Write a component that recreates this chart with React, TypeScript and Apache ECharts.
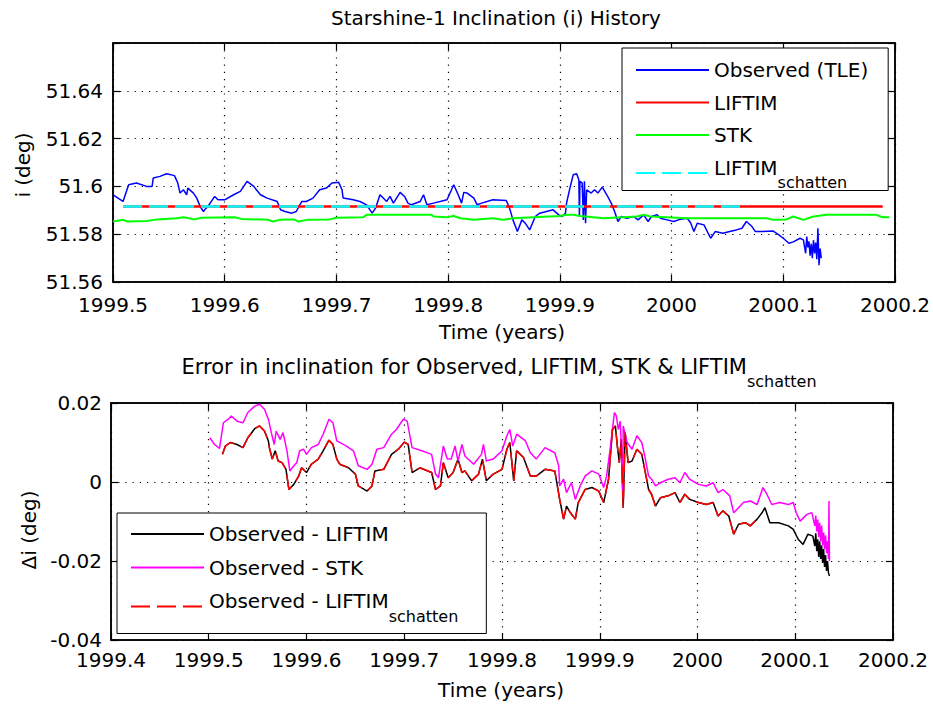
import { useEffect, useRef } from "react";
import * as echarts from "echarts";

const FONT = "DejaVu Sans";

// ---- Inclination history (deg) vs time (decimal years) ----
const observedTLE: [number, number][] = [
  [1999.5, 51.5965], [1999.509, 51.5937], [1999.514, 51.6007], [1999.521, 51.6014], [1999.53, 51.6],
  [1999.535, 51.6], [1999.536, 51.6035], [1999.542, 51.6042], [1999.548, 51.6053], [1999.555, 51.6045],
  [1999.558, 51.6014], [1999.56, 51.5972], [1999.563, 51.5986], [1999.566, 51.5965], [1999.567, 51.5993],
  [1999.572, 51.5972], [1999.575, 51.5951], [1999.578, 51.5916], [1999.581, 51.5895], [1999.582, 51.5902],
  [1999.585, 51.5916], [1999.588, 51.5937], [1999.591, 51.5958], [1999.594, 51.5944], [1999.6, 51.5944],
  [1999.608, 51.5965], [1999.614, 51.5979], [1999.62, 51.6021], [1999.626, 51.6], [1999.632, 51.5965],
  [1999.638, 51.5951], [1999.647, 51.5937], [1999.65, 51.5902], [1999.654, 51.5895], [1999.66, 51.5888],
  [1999.664, 51.5895], [1999.669, 51.5937], [1999.673, 51.5937], [1999.679, 51.5951], [1999.685, 51.5986],
  [1999.691, 51.5993], [1999.696, 51.6014], [1999.702, 51.6017], [1999.705, 51.5986], [1999.706, 51.5951],
  [1999.715, 51.5944], [1999.721, 51.5937], [1999.727, 51.5923], [1999.732, 51.5888], [1999.735, 51.5909],
  [1999.739, 51.5965], [1999.745, 51.5937], [1999.748, 51.5958], [1999.751, 51.593], [1999.757, 51.5975],
  [1999.761, 51.5958], [1999.764, 51.593], [1999.767, 51.5923], [1999.775, 51.5937], [1999.778, 51.5965],
  [1999.781, 51.5923], [1999.787, 51.593], [1999.799, 51.5944], [1999.805, 51.6007], [1999.809, 51.5965],
  [1999.812, 51.593], [1999.814, 51.5975], [1999.817, 51.5972], [1999.823, 51.5951], [1999.826, 51.5923],
  [1999.83, 51.593], [1999.84, 51.5944], [1999.852, 51.5941], [1999.855, 51.5909], [1999.858, 51.586],
  [1999.862, 51.5811], [1999.866, 51.586], [1999.869, 51.5846], [1999.873, 51.5818], [1999.878, 51.5874],
  [1999.882, 51.5888], [1999.888, 51.5895], [1999.894, 51.5902], [1999.899, 51.5881], [1999.902, 51.5874],
  [1999.905, 51.5888], [1999.906, 51.593], [1999.909, 51.5993], [1999.912, 51.6049], [1999.915, 51.6053],
  [1999.917, 51.6028], [1999.9175, 51.5874], [1999.918, 51.6021], [1999.92, 51.6014], [1999.921, 51.586],
  [1999.922, 51.6021], [1999.923, 51.5846], [1999.924, 51.5986], [1999.928, 51.5972], [1999.931, 51.5986],
  [1999.934, 51.5972], [1999.938, 51.5997], [1999.942, 51.5965], [1999.946, 51.593], [1999.949, 51.5895],
  [1999.952, 51.5853], [1999.955, 51.5874], [1999.96, 51.5867], [1999.966, 51.5874], [1999.97, 51.586],
  [1999.975, 51.5881], [1999.979, 51.5853], [1999.982, 51.5874], [1999.987, 51.5881], [1999.99, 51.5867],
  [1999.996, 51.586], [2000.002, 51.5853], [2000.008, 51.5863], [2000.014, 51.5867], [2000.017, 51.5848],
  [2000.02, 51.5811], [2000.023, 51.5846], [2000.029, 51.5839], [2000.035, 51.5783], [2000.039, 51.5811],
  [2000.046, 51.5804], [2000.052, 51.5811], [2000.058, 51.5818], [2000.063, 51.5825], [2000.067, 51.5853],
  [2000.072, 51.5832], [2000.075, 51.5811], [2000.081, 51.5811], [2000.091, 51.5813], [2000.096, 51.5797],
  [2000.1, 51.5783], [2000.105, 51.5762], [2000.109, 51.5768], [2000.115, 51.5783], [2000.118, 51.5776],
  [2000.12, 51.572], [2000.121, 51.579], [2000.122, 51.5745], [2000.123, 51.577], [2000.124, 51.571],
  [2000.125, 51.576], [2000.126, 51.57], [2000.127, 51.5775], [2000.128, 51.572], [2000.129, 51.5765],
  [2000.13, 51.5695], [2000.131, 51.5825], [2000.132, 51.567], [2000.133, 51.574], [2000.134, 51.57],
];

const liftim: [number, number][] = [[1999.509, 51.5916], [2000.189, 51.5916]];

const stk: [number, number][] = [
  [1999.5, 51.5853], [1999.509, 51.586], [1999.513, 51.5853], [1999.53, 51.5855], [1999.54, 51.5862],
  [1999.557, 51.5867], [1999.563, 51.5871], [1999.573, 51.5862], [1999.579, 51.5869], [1999.609, 51.5871],
  [1999.615, 51.5864], [1999.639, 51.586], [1999.643, 51.5853], [1999.649, 51.586], [1999.662, 51.5862],
  [1999.666, 51.5853], [1999.674, 51.586], [1999.694, 51.5862], [1999.7, 51.5869], [1999.724, 51.5871],
  [1999.727, 51.5881], [1999.785, 51.5881], [1999.787, 51.5874], [1999.799, 51.5871], [1999.805, 51.5876],
  [1999.811, 51.5867], [1999.823, 51.586], [1999.84, 51.5867], [1999.849, 51.586], [1999.858, 51.5867],
  [1999.9, 51.5876], [1999.906, 51.5881], [1999.912, 51.5881], [1999.918, 51.5876], [1999.939, 51.5867],
  [1999.969, 51.5874], [1999.975, 51.5881], [1999.981, 51.5874], [2000.014, 51.5867], [2000.085, 51.5867],
  [2000.091, 51.586], [2000.103, 51.5862], [2000.109, 51.5874], [2000.118, 51.586], [2000.127, 51.5874],
  [2000.139, 51.5881], [2000.183, 51.5881], [2000.189, 51.5871], [2000.195, 51.5871],
];

const liftimSchatten: [number, number][] = [[1999.509, 51.5916], [2000.063, 51.5916]];

// ---- Inclination error (deg) ----
const errLiftim: [number, number][] = [
  [1999.514, 0.007], [1999.517, 0.0091], [1999.522, 0.01], [1999.529, 0.0095], [1999.535, 0.0087],
  [1999.54, 0.0112], [1999.547, 0.0135], [1999.552, 0.0142], [1999.557, 0.0129], [1999.561, 0.0104],
  [1999.562, 0.0087], [1999.565, 0.0058], [1999.568, 0.0079], [1999.571, 0.0053], [1999.575, 0.0049],
  [1999.579, 0.0032], [1999.582, -0.0019], [1999.587, -0.0006], [1999.592, 0.0015], [1999.595, 0.0036],
  [1999.6, 0.0024], [1999.605, 0.0045], [1999.612, 0.0058], [1999.617, 0.0079], [1999.623, 0.0106],
  [1999.627, 0.0095], [1999.631, 0.0058], [1999.634, 0.0045], [1999.643, 0.0036], [1999.65, 0.002],
  [1999.653, -0.001], [1999.662, -0.0023], [1999.667, -0.001], [1999.67, 0.0028], [1999.679, 0.0032],
  [1999.687, 0.007], [1999.694, 0.0083], [1999.7, 0.0101], [1999.704, 0.0095], [1999.708, 0.0024],
  [1999.716, 0.0036], [1999.728, 0.0024], [1999.732, -0.0019], [1999.737, -0.001], [1999.74, 0.0049],
  [1999.745, 0.0011], [1999.75, 0.0024], [1999.755, 0.0058], [1999.759, 0.0024], [1999.762, 0.0028],
  [1999.769, 0.0003], [1999.776, 0.002], [1999.78, 0.0058], [1999.784, 0.0003], [1999.791, 0.002],
  [1999.8, 0.0032], [1999.805, 0.0083], [1999.808, 0.01], [1999.812, 0.0003], [1999.815, 0.0079],
  [1999.822, 0.0062], [1999.829, 0.0015], [1999.835, 0.0015], [1999.844, 0.0032], [1999.854, 0.0028],
  [1999.859, -0.0044], [1999.863, -0.0094], [1999.866, -0.0061], [1999.87, -0.0078], [1999.875, -0.0094],
  [1999.878, -0.0052], [1999.885, -0.0019], [1999.892, -0.0014], [1999.899, -0.0023], [1999.904, -0.0052],
  [1999.909, 0.0007], [1999.913, 0.0133], [1999.916, 0.0142], [1999.918, 0.0091], [1999.92, 0.0049],
  [1999.922, 0.0108], [1999.924, -0.0065], [1999.926, 0.0125], [1999.929, 0.0049], [1999.933, 0.0053],
  [1999.938, 0.0083], [1999.943, 0.007], [1999.946, 0.0032], [1999.95, -0.0019], [1999.953, -0.0031],
  [1999.957, -0.0061], [1999.962, -0.004], [1999.97, -0.0035], [1999.977, -0.0027], [1999.982, -0.0052],
  [1999.987, -0.0031], [1999.992, -0.0044], [2000.001, -0.0052], [2000.009, -0.0057], [2000.016, -0.0052],
  [2000.021, -0.0086], [2000.026, -0.0073], [2000.032, -0.0086], [2000.037, -0.0132], [2000.042, -0.0107],
  [2000.049, -0.0103], [2000.054, -0.0111], [2000.061, -0.0094], [2000.066, -0.0078], [2000.069, -0.0065],
  [2000.074, -0.0103], [2000.083, -0.0103], [2000.093, -0.0111], [2000.098, -0.012], [2000.103, -0.0145],
  [2000.108, -0.0158], [2000.113, -0.0132], [2000.118, -0.0137], [2000.12, -0.0162], [2000.121, -0.013],
  [2000.122, -0.0175], [2000.123, -0.0145], [2000.124, -0.019], [2000.125, -0.015], [2000.126, -0.0195],
  [2000.127, -0.016], [2000.128, -0.0205], [2000.129, -0.017], [2000.13, -0.0215], [2000.131, -0.0185],
  [2000.132, -0.0225], [2000.133, -0.02], [2000.134, -0.023], [2000.135, -0.0238],
];

const errStk: [number, number][] = [
  [1999.501, 0.0112], [1999.506, 0.0095], [1999.511, 0.0085], [1999.515, 0.015], [1999.52, 0.0159],
  [1999.523, 0.0167], [1999.529, 0.0154], [1999.535, 0.015], [1999.54, 0.0176], [1999.547, 0.0192],
  [1999.552, 0.0197], [1999.557, 0.0184], [1999.561, 0.0159], [1999.564, 0.0125], [1999.567, 0.0095],
  [1999.569, 0.0129], [1999.573, 0.0108], [1999.576, 0.0125], [1999.58, 0.0079], [1999.583, 0.0028],
  [1999.587, 0.0041], [1999.59, 0.0049], [1999.593, 0.0079], [1999.597, 0.0083], [1999.6, 0.007],
  [1999.605, 0.0087], [1999.612, 0.0095], [1999.617, 0.0121], [1999.623, 0.0159], [1999.627, 0.015],
  [1999.631, 0.0104], [1999.641, 0.0091], [1999.648, 0.0079], [1999.653, 0.0041], [1999.662, 0.0032],
  [1999.667, 0.0045], [1999.672, 0.0083], [1999.679, 0.0087], [1999.687, 0.0121], [1999.692, 0.0133],
  [1999.699, 0.0159], [1999.703, 0.0154], [1999.708, 0.0087], [1999.718, 0.0079], [1999.728, 0.007],
  [1999.732, 0.002], [1999.735, 0.0011], [1999.74, 0.0091], [1999.744, 0.0058], [1999.748, 0.0058],
  [1999.752, 0.0091], [1999.755, 0.0053], [1999.759, 0.0095], [1999.762, 0.0066], [1999.771, 0.0045],
  [1999.779, 0.007], [1999.781, 0.0095], [1999.784, 0.0053], [1999.791, 0.0058], [1999.8, 0.0079],
  [1999.805, 0.0117], [1999.808, 0.0133], [1999.811, 0.0091], [1999.815, 0.0121], [1999.824, 0.0104],
  [1999.829, 0.0074], [1999.835, 0.0058], [1999.844, 0.0087], [1999.854, 0.0074], [1999.858, 0.0041],
  [1999.859, -0.001], [1999.863, 0.0007], [1999.866, -0.0027], [1999.871, -0.0002], [1999.875, -0.0044],
  [1999.88, -0.001], [1999.885, 0.0015], [1999.892, 0.0028], [1999.899, 0.002], [1999.904, -0.0014],
  [1999.907, 0.0015], [1999.911, 0.0091], [1999.915, 0.0176], [1999.917, 0.0167], [1999.919, 0.0133],
  [1999.921, 0.0154], [1999.922, 0.0091], [1999.9235, -0.0035], [1999.924, 0.0142], [1999.928, 0.01],
  [1999.933, 0.0083], [1999.938, 0.0117], [1999.943, 0.01], [1999.946, 0.0066], [1999.95, 0.0015],
  [1999.953, 0.0007], [1999.957, -0.001], [1999.962, -0.0002], [1999.97, 0.0007], [1999.977, 0.0011],
  [1999.982, -0.0002], [1999.987, 0.0024], [1999.992, 0.0007], [2000.001, -0.0006], [2000.009, -0.001],
  [2000.016, -0.0002], [2000.021, -0.0027], [2000.026, -0.0019], [2000.033, -0.0035], [2000.037, -0.0078],
  [2000.042, -0.0065], [2000.047, -0.0052], [2000.054, -0.0048], [2000.061, -0.0057], [2000.067, -0.0014],
  [2000.071, -0.0031], [2000.076, -0.0057], [2000.084, -0.0052], [2000.093, -0.0057], [2000.098, -0.0052],
  [2000.101, -0.0078], [2000.105, -0.0099], [2000.112, -0.0082], [2000.117, -0.0078], [2000.12, -0.0111],
  [2000.121, -0.0085], [2000.122, -0.0125], [2000.123, -0.0095], [2000.124, -0.014], [2000.125, -0.0103],
  [2000.126, -0.015], [2000.127, -0.011], [2000.128, -0.016], [2000.129, -0.0128], [2000.13, -0.017],
  [2000.131, -0.0135], [2000.132, -0.018], [2000.133, -0.015], [2000.134, -0.0195], [2000.1345, -0.0048],
  [2000.135, -0.02],
];

// The shadow-model error follows the LIFTIM error while its run lasts
const SCHATTEN_END = 2000.063;
const errSchatten = errLiftim.filter(([t]) => t <= SCHATTEN_END);

// ---- Axis ticks ----
const topYearTicks = [1999.5, 1999.6, 1999.7, 1999.8, 1999.9, 2000.0, 2000.1, 2000.2];
const topInclTicks = [51.56, 51.58, 51.6, 51.62, 51.64, 51.66];
const bottomYearTicks = [1999.4, 1999.5, 1999.6, 1999.7, 1999.8, 1999.9, 2000.0, 2000.1, 2000.2];
const bottomErrTicks = [-0.04, -0.02, 0, 0.02];
const hiddenTickLabels = [51.66];

// Rich-text styles: "m" is the main line, "s" a subscript pushed down by its top padding
const makeRich = (mainSize: number) => ({
  m: { fontFamily: FONT, fontSize: mainSize, padding: [2, 0, 2, 0], verticalAlign: "top", color: "#000", fill: "#000" },
  s: { fontFamily: FONT, fontSize: 16, padding: [19, 0, 0, 0], verticalAlign: "top", color: "#000", fill: "#000" },
});
const rich = makeRich(20);
const titleRich = makeRich(21);

const legendText = (name: string) =>
  name.endsWith("_schatten") ? `{m|${name.replace("_schatten", "")}}{s|schatten}` : `{m|${name}}`;

const fmtNum = (v: number, digits: number) => {
  if (hiddenTickLabels.some((h) => Math.abs(h - v) < 1e-9)) return "";
  const n = parseFloat(v.toFixed(digits));
  return String(n === 0 ? 0 : n);
};

const span = (ticks: number[]) => ({
  min: ticks[0],
  max: ticks[ticks.length - 1],
  interval: parseFloat((ticks[1] - ticks[0]).toFixed(6)),
});

const gridLine = { show: true, lineStyle: { color: "#000", width: 1.2, type: [1.2, 6] as number[] } };

function axisPair(kind: "x" | "y", gridIndex: number, ticks: number[], digits: number, margin: number) {
  const base = { type: "value" as const, gridIndex, ...span(ticks) };
  const main = {
    ...base,
    position: kind === "x" ? "bottom" : "left",
    axisLine: { show: true, onZero: false, lineStyle: { color: "#000", width: 1.5 } },
    axisTick: { show: true, inside: true, length: 7, lineStyle: { color: "#000", width: 1.2 } },
    axisLabel: {
      show: true, margin, color: "#000", fontFamily: FONT, fontSize: 20,
      showMinLabel: true, showMaxLabel: true,
      formatter: (v: number) => fmtNum(v, digits),
    },
    splitLine: gridLine,
  };
  const mirror = {
    ...base,
    position: kind === "x" ? "top" : "right",
    axisLine: { show: true, onZero: false, lineStyle: { color: "#000", width: 1.5 } },
    axisTick: { show: true, inside: true, length: 7, lineStyle: { color: "#000", width: 1.2 } },
    axisLabel: { show: false },
    splitLine: { show: false },
  };
  return [main, mirror];
}

const lineSeries = (
  name: string, data: [number, number][], color: string, width: number,
  axisIndex: number, dash?: number[],
) => ({
  name, type: "line", data, xAxisIndex: axisIndex, yAxisIndex: axisIndex,
  symbol: "none", showSymbol: false, silent: true, clip: true,
  itemStyle: { color },
  lineStyle: { color, width, type: dash ?? "solid" },
  emphasis: { disabled: true },
});

const legendBase = {
  orient: "vertical",
  itemWidth: 73,
  itemHeight: 14,
  selectedMode: false,
  backgroundColor: "#fff",
  borderColor: "#000",
  borderWidth: 1,
  borderRadius: 0,
  itemStyle: { opacity: 0 },
  textStyle: { fontFamily: FONT, fontSize: 20, color: "#000", rich },
  formatter: legendText,
};

const textStyle = (text: string, extra: Record<string, unknown> = {}) => ({
  text, fontFamily: FONT, fontSize: 20, fill: "#000",
  align: "center", verticalAlign: "middle", textAlign: "center", textVerticalAlign: "middle",
  ...extra,
});

const option = {
  animation: false,
  backgroundColor: "#fff",
  grid: [
    { left: 113, top: 43, width: 782, height: 239, show: true, borderColor: "#000", borderWidth: 1.5 },
    { left: 111, top: 403, width: 782, height: 237, show: true, borderColor: "#000", borderWidth: 1.5 },
  ],
  xAxis: [
    ...axisPair("x", 0, topYearTicks, 1, 13),
    ...axisPair("x", 1, bottomYearTicks, 1, 10),
  ],
  yAxis: [
    ...axisPair("y", 0, topInclTicks, 4, 10),
    ...axisPair("y", 1, bottomErrTicks, 4, 9),
  ],
  legend: [
    {
      ...legendBase, left: 622, top: 48, itemGap: 12.5, padding: [12, 20, 0, 13],
      data: ["Observed (TLE)", "LIFTIM", "STK", "LIFTIM_schatten"],
    },
    {
      ...legendBase, left: 117, top: 513, itemGap: 13.5, padding: [11, 28, 9.5, 13],
      data: ["Observed - LIFTIM", "Observed - STK", "Observed - LIFTIM_schatten"],
    },
  ],
  series: [
    lineSeries("Observed (TLE)", observedTLE, "#0000ff", 1.5, 0),
    lineSeries("LIFTIM", liftim, "#ff0000", 2.5, 0),
    lineSeries("STK", stk, "#00ff00", 2, 0),
    lineSeries("LIFTIM_schatten", liftimSchatten, "#00ffff", 2.5, 0, [19, 7]),
    lineSeries("Observed - LIFTIM", errLiftim, "#000000", 1.5, 2),
    lineSeries("Observed - STK", errStk, "#ff00ff", 1.5, 2),
    lineSeries("Observed - LIFTIM_schatten", errSchatten, "#ff0000", 1.5, 2, [19, 7]),
  ],
  graphic: [
    { type: "text", x: 496, y: 17.6, silent: true, style: textStyle("Starshine-1 Inclination (i) History") },
    {
      type: "text", x: 499, y: 354, silent: true,
      style: textStyle("{m|Error in inclination for Observed, LIFTIM, STK & LIFTIM}{s|schatten}", {
        rich: titleRich, verticalAlign: "top", textVerticalAlign: "top",
      }),
    },
    { type: "text", x: 502, y: 331.5, silent: true, style: textStyle("Time (years)") },
    { type: "text", x: 501, y: 690, silent: true, style: textStyle("Time (years)") },
    { type: "text", x: 23, y: 165, rotation: Math.PI / 2, silent: true, style: textStyle("i (deg)") },
    { type: "text", x: 29, y: 530, rotation: Math.PI / 2, silent: true, style: textStyle("\u0394i (deg)") },
  ],
};

export default function App() {
  const ref = useRef<HTMLDivElement>(null);
  useEffect(() => {
    if (!ref.current) return;
    const chart = echarts.init(ref.current, null, { renderer: "svg" });
    chart.setOption(option as any);
    return () => chart.dispose();
  }, []);
  return (
    <div
      ref={ref}
      style={{ position: "absolute", left: 0, top: 0, width: 933, height: 709, background: "#fff" }}
    />
  );
}
